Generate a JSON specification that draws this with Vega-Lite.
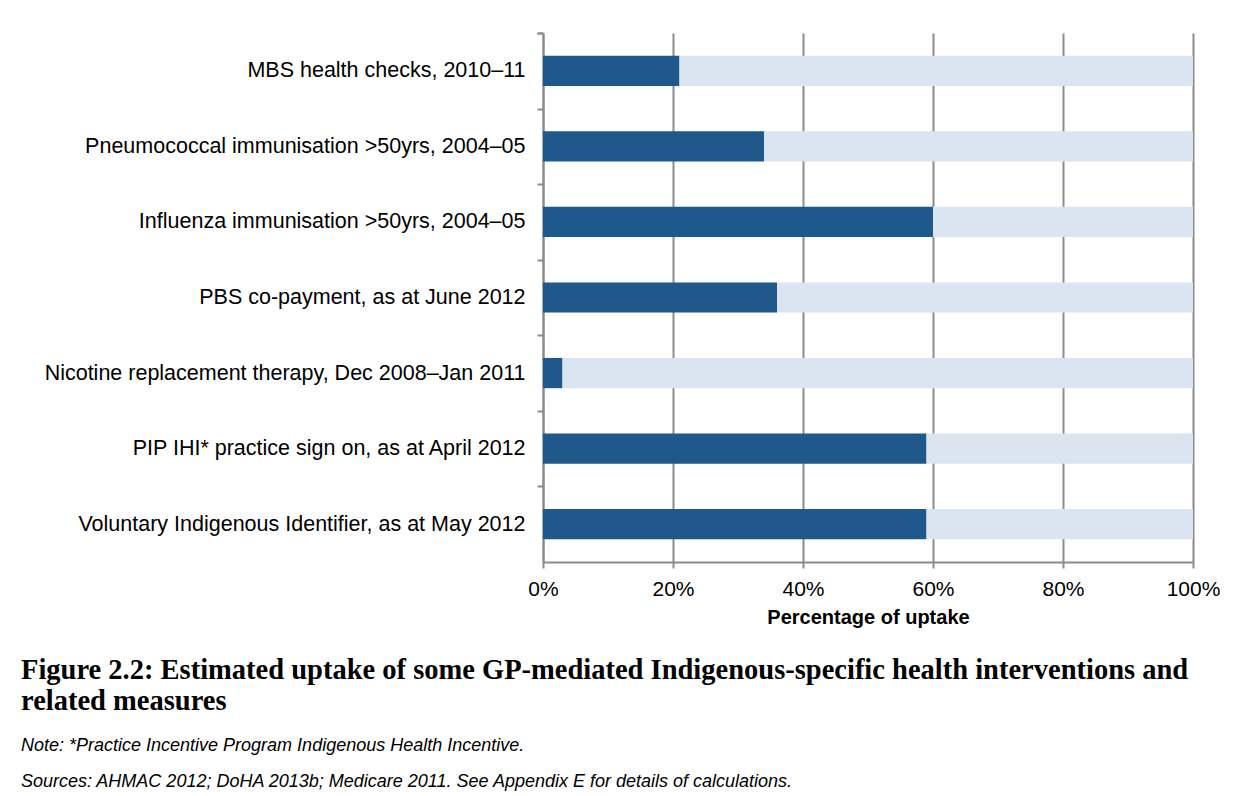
{
  "$schema": "https://vega.github.io/schema/vega-lite/v6.json",
  "width": 650,
  "height": 529,
  "autosize": {"type": "none"},
  "padding": {"left": 543, "top": 33, "right": 57, "bottom": 234},
  "background": "white",
  "config": {"view": {"stroke": null}},
  "data": {
    "values": [
      {"measure": "MBS health checks, 2010–11", "segment": "Uptake", "value": 21},
      {"measure": "MBS health checks, 2010–11", "segment": "Remainder", "value": 79},
      {"measure": "Pneumococcal immunisation >50yrs, 2004–05", "segment": "Uptake", "value": 34},
      {"measure": "Pneumococcal immunisation >50yrs, 2004–05", "segment": "Remainder", "value": 66},
      {"measure": "Influenza immunisation >50yrs, 2004–05", "segment": "Uptake", "value": 60},
      {"measure": "Influenza immunisation >50yrs, 2004–05", "segment": "Remainder", "value": 40},
      {"measure": "PBS co-payment, as at June 2012", "segment": "Uptake", "value": 36},
      {"measure": "PBS co-payment, as at June 2012", "segment": "Remainder", "value": 64},
      {"measure": "Nicotine replacement therapy, Dec 2008–Jan 2011", "segment": "Uptake", "value": 3},
      {"measure": "Nicotine replacement therapy, Dec 2008–Jan 2011", "segment": "Remainder", "value": 97},
      {"measure": "PIP IHI* practice sign on, as at April 2012", "segment": "Uptake", "value": 59},
      {"measure": "PIP IHI* practice sign on, as at April 2012", "segment": "Remainder", "value": 41},
      {"measure": "Voluntary Indigenous Identifier, as at May 2012", "segment": "Uptake", "value": 59},
      {"measure": "Voluntary Indigenous Identifier, as at May 2012", "segment": "Remainder", "value": 41}
    ]
  },
  "title": {
    "text": ["Figure 2.2: Estimated uptake of some GP-mediated Indigenous-specific health interventions and", "related measures"],
    "subtitle": ["Note: *Practice Incentive Program Indigenous Health Incentive.", "Sources: AHMAC 2012; DoHA 2013b; Medicare 2011. See Appendix E for details of calculations."],
    "orient": "bottom",
    "anchor": "start",
    "frame": "group",
    "dx": -522,
    "offset": 29,
    "font": "Liberation Serif",
    "fontSize": 28.5,
    "fontWeight": "bold",
    "lineHeight": 31,
    "color": "black",
    "subtitleFont": "Liberation Sans",
    "subtitleFontSize": 18,
    "subtitleFontStyle": "italic",
    "subtitleColor": "black",
    "subtitleLineHeight": 36,
    "subtitlePadding": 21
  },
  "mark": {"type": "bar"},
  "encoding": {
    "y": {
      "field": "measure",
      "type": "nominal",
      "sort": [
        "MBS health checks, 2010–11",
        "Pneumococcal immunisation >50yrs, 2004–05",
        "Influenza immunisation >50yrs, 2004–05",
        "PBS co-payment, as at June 2012",
        "Nicotine replacement therapy, Dec 2008–Jan 2011",
        "PIP IHI* practice sign on, as at April 2012",
        "Voluntary Indigenous Identifier, as at May 2012"
      ],
      "scale": {"paddingInner": 0.6, "paddingOuter": 0.3},
      "axis": {
        "title": null,
        "grid": false,
        "labelFont": "Liberation Sans",
        "labelFontSize": 21.5,
        "labelColor": "black",
        "labelLimit": 700,
        "labelPadding": 12,
        "labelOffset": 22.67,
        "domainColor": "#8c8c8c",
        "domainWidth": 2,
        "tickColor": "#8c8c8c",
        "tickWidth": 2,
        "tickSize": 6,
        "bandPosition": 0,
        "tickOffset": -22.67,
        "tickExtra": true
      }
    },
    "x": {
      "field": "value",
      "type": "quantitative",
      "stack": "zero",
      "scale": {"domain": [0, 100], "nice": false},
      "axis": {
        "values": [0, 20, 40, 60, 80, 100],
        "labelExpr": "datum.value + '%'",
        "labelFlush": false,
        "title": "Percentage of uptake",
        "titleFont": "Liberation Sans",
        "titleFontSize": 20,
        "titleFontWeight": "bold",
        "titleColor": "black",
        "titlePadding": 8,
        "labelFont": "Liberation Sans",
        "labelFontSize": 21,
        "labelColor": "black",
        "labelPadding": 10,
        "grid": true,
        "gridColor": "#8c8c8c",
        "gridWidth": 2,
        "domainColor": "#8c8c8c",
        "domainWidth": 2,
        "tickColor": "#8c8c8c",
        "tickWidth": 2,
        "tickSize": 6
      }
    },
    "color": {
      "field": "segment",
      "type": "nominal",
      "scale": {"domain": ["Uptake", "Remainder"], "range": ["#1F598C", "#DBE5F1"]},
      "legend": null
    },
    "order": {"field": "segment", "sort": "descending"}
  }
}
